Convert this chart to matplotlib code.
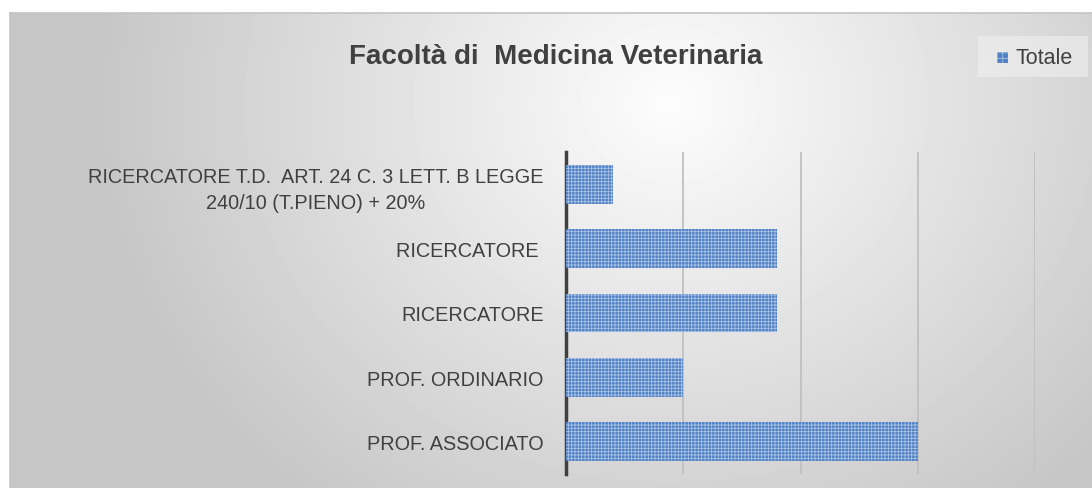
import numpy as np
import matplotlib.pyplot as plt
from matplotlib.patches import Rectangle

# data (bottom to top as drawn)
categories = ["PROF. ASSOCIATO", "PROF. ORDINARIO", "RICERCATORE", "RICERCATORE ",
              "RICERCATORE T.D.  ART. 24 C. 3 LETT. B LEGGE\n240/10 (T.PIENO) + 20%"]
totale = [3.0, 1.0, 1.8, 1.8, 0.4]
title = "Facoltà di  Medicina Veterinaria"
legend_label = "Totale"

W, H = 1092, 489
plt.rcParams["font.family"] = ["Liberation Sans", "DejaVu Sans"]
plt.rcParams["hatch.linewidth"] = 0.6
plt.rcParams["hatch.color"] = "#9db9e0"

fig = plt.figure(figsize=(W / 100, H / 100), dpi=100)

# chart area background: radial grey gradient, brightest near the top centre
bg = fig.add_axes([10 / W, 0, (W - 10) / W, (H - 14) / H])
yy, xx = np.mgrid[0:475, 0:1082]
r = np.sqrt(((xx - 660) / 540.0) ** 2 + ((yy - 90) / 480.0) ** 2)
shade = np.clip(0.99 - 0.2 * r, 0.775, 1.0)
bg.imshow(shade, cmap="gray", vmin=0, vmax=1, aspect="auto", interpolation="bilinear")
bg.axis("off")
fig.add_artist(plt.Line2D([10 / W, 1], [1 - 14 / H, 1 - 14 / H], color="#c4c4c4", lw=1.2))
fig.add_artist(plt.Line2D([10 / W, 10 / W], [0, 1 - 14 / H], color="#c4c4c4", lw=1.2))

# plot area
ax = fig.add_axes([566 / W, 1 - 475 / H, (1035 - 566) / W, (475 - 153) / H])
ax.patch.set_alpha(0)
y = np.arange(len(categories))
ax.barh(y, totale, height=0.6, color="#4f81c4", hatch="+++++", edgecolor="#a9c2e6", linewidth=0, zorder=3)
ax.set_xlim(0, 4)
ax.set_ylim(-0.5, len(categories) - 0.5)
ax.set_xticks([1, 2, 3, 4])
ax.set_xticklabels([])
ax.tick_params(axis="x", length=0)
ax.grid(axis="x", color="#c0c0c0", lw=1.3, zorder=0)
ax.set_yticks(y)
ax.set_yticklabels(categories, fontsize=14.3, color="#404040")
ax.tick_params(axis="y", length=0, pad=16)
for lab in ax.get_yticklabels():
    lab.set_horizontalalignment("right")
    lab.set_multialignment("center")
    lab.set_linespacing(1.45)
for s in ["top", "right", "bottom"]:
    ax.spines[s].set_visible(False)
ax.spines["left"].set_color("#404040")
ax.spines["left"].set_linewidth(2.5)

fig.text(556 / W, 1 - 57 / H, title, ha="center", va="center", fontsize=20,
         fontweight="bold", color="#404040")

# legend box
fig.add_artist(Rectangle((978 / W, 1 - 78 / H), 110 / W, 41 / H, transform=fig.transFigure,
                         facecolor="#f0f0f0", edgecolor="none", alpha=0.6))
fig.add_artist(Rectangle((997 / W, 1 - 64 / H), 11 / W, 11 / H, transform=fig.transFigure,
                         facecolor="#4f81c4", hatch="+++", edgecolor="#a9c2e6", linewidth=0))
fig.text(1015 / W, 1 - 58 / H, legend_label, ha="left", va="center", fontsize=15.5, color="#404040")

fig.savefig("out.png", dpi=100)
